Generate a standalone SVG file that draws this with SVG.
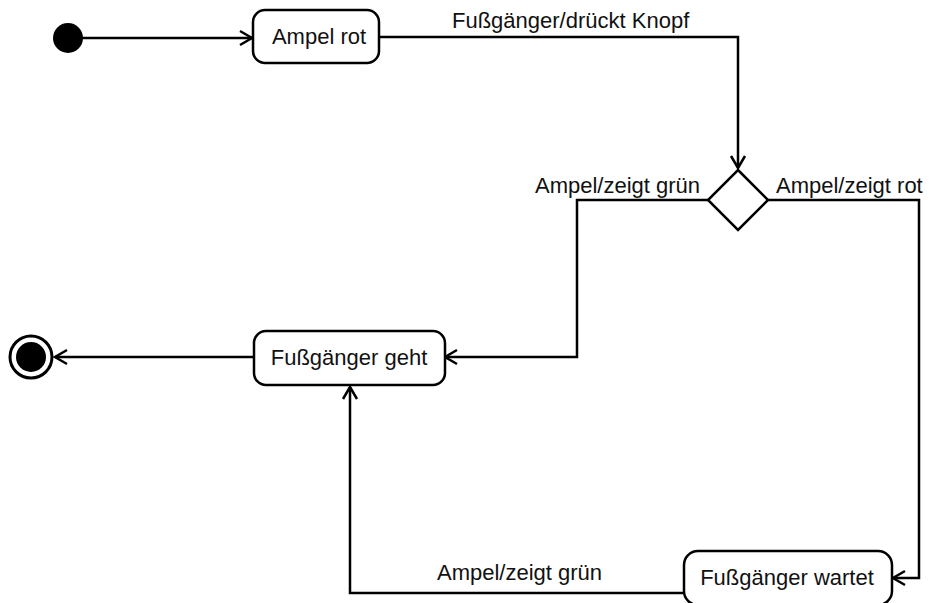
<svg xmlns="http://www.w3.org/2000/svg" width="929" height="603" viewBox="0 0 929 603">
<defs>
<style>
.st{fill:#fff;stroke:#000;stroke-width:2.5}
.ln{fill:none;stroke:#000;stroke-width:2.5}
.t{font-family:"Liberation Sans",Arial,sans-serif;font-size:22px;fill:#111}
.m{text-anchor:middle}
</style>
<marker id="arr" markerWidth="16" markerHeight="16" refX="13" refY="8" orient="auto" markerUnits="userSpaceOnUse" overflow="visible">
<path d="M1,1 L13,8 L1,15" fill="none" stroke="#000" stroke-width="2.5"/>
</marker>
</defs>
<rect width="929" height="603" fill="#fff"/>
<g id="connectors">
<line class="ln" x1="82" y1="38" x2="252" y2="38" marker-end="url(#arr)"/>
<polyline class="ln" points="379,37 738,37 738,168" marker-end="url(#arr)"/>
<polyline class="ln" points="708,200 577,200 577,357 445,357" marker-end="url(#arr)"/>
<polyline class="ln" points="768,200 919,200 919,578 893,578" marker-end="url(#arr)"/>
<polyline class="ln" points="683,593 350,593 350,387" marker-end="url(#arr)"/>
<line class="ln" x1="253" y1="357" x2="55" y2="357" marker-end="url(#arr)"/>
<text class="t" x="452" y="28">Fußgänger/drückt Knopf</text>
<text class="t" x="535" y="193">Ampel/zeigt grün</text>
<text class="t" x="776" y="193">Ampel/zeigt rot</text>
<text class="t" x="437" y="580">Ampel/zeigt grün</text>
</g>
<g id="start"><circle cx="68" cy="38" r="15" fill="#000"/></g>
<g id="ampel-rot"><rect class="st" x="253" y="10" width="126" height="53" rx="12"/><text class="t m" x="319" y="44">Ampel rot</text></g>
<g id="decision"><polygon class="st" points="738,170 768,200 738,230 708,200"/></g>
<g id="geht"><rect class="st" x="254" y="331" width="191" height="54" rx="12"/><text class="t m" x="349" y="365">Fußgänger geht</text></g>
<g id="wartet"><rect class="st" x="684" y="551" width="208" height="54" rx="14"/><text class="t m" x="787" y="585">Fußgänger wartet</text></g>
<g id="end"><circle cx="31" cy="357" r="21" fill="#fff" stroke="#000" stroke-width="3"/><circle cx="31" cy="357" r="15" fill="#000"/></g>
</svg>
